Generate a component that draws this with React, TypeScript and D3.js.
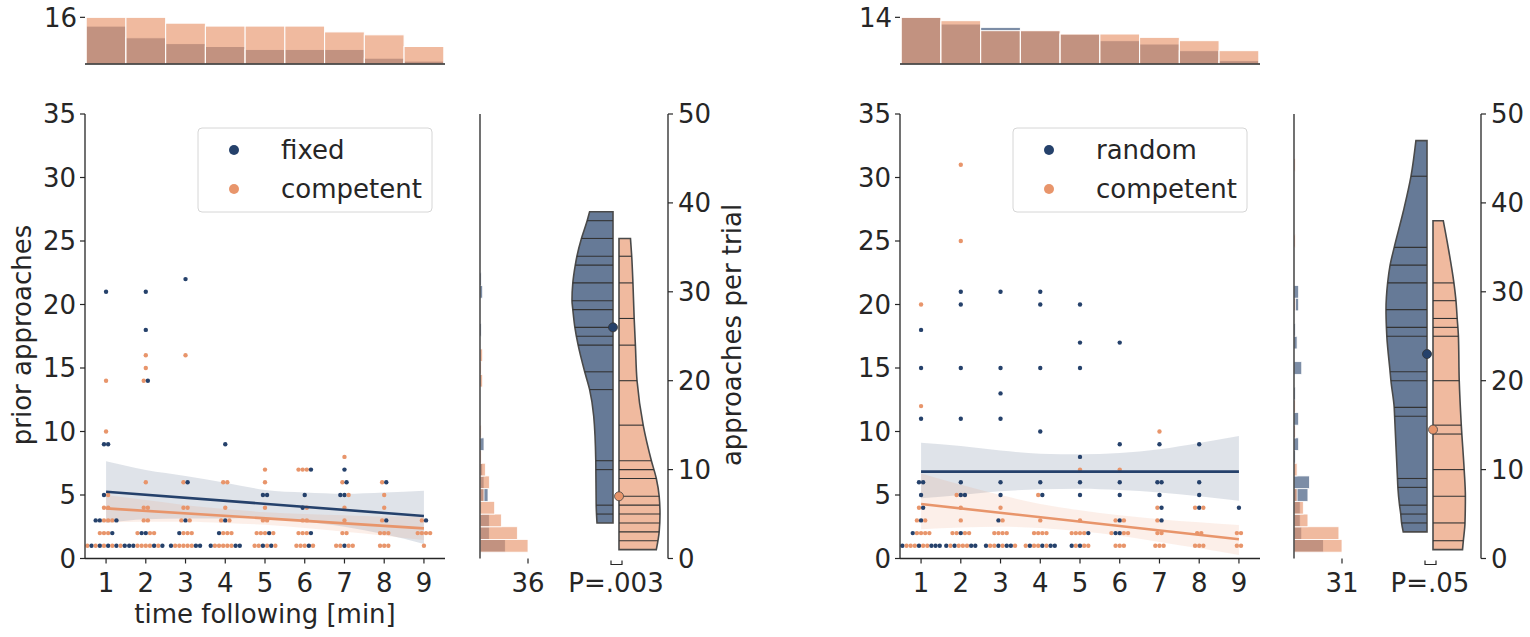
import * as d3 from "d3";

const BLUE = "#25416b";
const ORANGE = "#e8956b";
const INK = "#262626";
const FONT = "DejaVu Sans, Verdana, sans-serif";
const FS = 26;

const timeTicks = [1, 2, 3, 4, 5, 6, 7, 8, 9];
const priorTicks = [0, 5, 10, 15, 20, 25, 30, 35];
const trialTicks = [0, 10, 20, 30, 40, 50];

type Row = [number, number, string];
type Profile = [number, number][];

// swarm rows: [time following, prior approaches, dot order left to right]
// b = fixed / random, o = competent
const fixedRows: Row[] = [
  [1, 1, "obobobobob"], [1, 2, "ooob"], [1, 3, "bbooob"], [1, 4, "oo"], [1, 5, "bo"], [1, 9, "bb"], [1, 10, "o"], [1, 14, "o"], [1, 21, "b"],
  [2, 1, "bboooobob"], [2, 2, "obboo"], [2, 3, "oo"], [2, 4, "oo"], [2, 6, "o"], [2, 14, "ob"], [2, 15, "o"], [2, 16, "o"], [2, 18, "b"], [2, 21, "b"],
  [3, 1, "booooobb"], [3, 2, "booo"], [3, 3, "obo"], [3, 4, "oo"], [3, 6, "ob"], [3, 16, "o"], [3, 22, "b"],
  [4, 1, "booooobb"], [4, 2, "booo"], [4, 3, "obo"], [4, 4, "o"], [4, 6, "oo"], [4, 9, "b"],
  [5, 1, "oobobo"], [5, 2, "ooobo"], [5, 3, "oo"], [5, 4, "o"], [5, 5, "bb"], [5, 6, "o"], [5, 7, "o"],
  [6, 1, "ooobo"], [6, 2, "ooob"], [6, 3, "oo"], [6, 4, "bo"], [6, 5, "b"], [6, 7, "ooob"],
  [7, 1, "ooboo"], [7, 2, "oo"], [7, 3, "o"], [7, 4, "o"], [7, 5, "bbo"], [7, 6, "ob"], [7, 7, "b"], [7, 8, "o"],
  [8, 1, "ooo"], [8, 2, "ooo"], [8, 3, "ob"], [8, 4, "o"], [8, 5, "o"], [8, 6, "ob"],
  [9, 1, "o"], [9, 2, "oooo"], [9, 3, "ob"],
];

const randomRows: Row[] = [
  [1, 1, "boooboobbb"], [1, 2, "boooo"], [1, 3, "obo"], [1, 4, "ob"], [1, 5, "b"], [1, 6, "bb"], [1, 11, "b"], [1, 12, "o"], [1, 15, "b"], [1, 18, "b"], [1, 20, "o"],
  [2, 1, "bobooobb"], [2, 2, "ooboo"], [2, 3, "o"], [2, 4, "o"], [2, 5, "obb"], [2, 6, "b"], [2, 11, "b"], [2, 15, "b"], [2, 20, "b"], [2, 21, "b"], [2, 25, "o"], [2, 31, "o"],
  [3, 1, "boobobbo"], [3, 2, "oooo"], [3, 3, "bo"], [3, 4, "o"], [3, 5, "b"], [3, 6, "b"], [3, 11, "b"], [3, 13, "b"], [3, 15, "b"], [3, 21, "b"],
  [4, 1, "oboobobb"], [4, 2, "oooo"], [4, 3, "o"], [4, 5, "ob"], [4, 6, "b"], [4, 10, "b"], [4, 15, "b"], [4, 20, "b"], [4, 21, "b"],
  [5, 1, "boboo"], [5, 2, "oooob"], [5, 3, "o"], [5, 5, "b"], [5, 6, "b"], [5, 7, "o"], [5, 8, "b"], [5, 15, "b"], [5, 17, "b"], [5, 20, "b"],
  [6, 1, "ooo"], [6, 2, "obboo"], [6, 3, "obo"], [6, 5, "b"], [6, 6, "b"], [6, 7, "o"], [6, 9, "b"], [6, 17, "b"],
  [7, 1, "ooo"], [7, 2, "oo"], [7, 3, "ob"], [7, 4, "ob"], [7, 5, "b"], [7, 6, "bb"], [7, 9, "b"], [7, 10, "o"],
  [8, 1, "ooo"], [8, 2, "oo"], [8, 4, "obo"], [8, 5, "b"], [8, 6, "b"], [8, 9, "b"],
  [9, 1, "oo"], [9, 2, "oo"], [9, 4, "b"],
];

// regression fits at time 1 and 9, CI bands at times 1..9
const fixedFit = [5.26, 3.35];
const fixedBandHi = [7.65, 6.97, 6.5, 5.97, 5.4, 5.2, 5.1, 5.2, 5.34];
const fixedBandLo = [2.8, 3.1, 3.15, 3.15, 3.2, 2.9, 2.5, 1.9, 1.15];
const compLeftFit = [3.95, 2.37];
const compLeftBandHi = [5.0, 4.6, 4.2, 3.9, 3.65, 3.5, 3.4, 3.3, 3.3];
const compLeftBandLo = [2.85, 2.9, 2.9, 2.8, 2.65, 2.4, 2.1, 1.8, 1.45];
const randomFit = [6.84, 6.84];
const randomBandHi = [9.12, 8.85, 8.5, 8.25, 8.2, 8.3, 8.6, 9.1, 9.65];
const randomBandLo = [4.74, 5.0, 5.3, 5.45, 5.5, 5.4, 5.2, 4.9, 4.55];
const compRightFit = [4.29, 1.51];
const compRightBandHi = [6.7, 5.8, 5.0, 4.3, 3.8, 3.4, 3.1, 2.85, 2.64];
const compRightBandLo = [2.3, 2.45, 2.5, 2.4, 2.15, 1.8, 1.3, 0.8, 0.28];

// half-violin outlines: [approaches per trial, relative half width]
const fixedViolin: Profile = [[39, 0.57], [38, 0.63], [36, 0.77], [34, 0.88], [33, 0.92], [31, 0.98], [29, 1.0], [28, 0.98], [26, 0.93], [24, 0.85], [21, 0.69], [19, 0.57], [16, 0.47], [11, 0.42], [6, 0.41], [4, 0.39]];
const compLeftViolin: Profile = [[36, 0.28], [34, 0.31], [31, 0.34], [27, 0.37], [24, 0.4], [20, 0.44], [15, 0.59], [11, 0.79], [9, 0.91], [7, 0.98], [5, 1.0], [3, 0.98], [1, 0.91]];
const randomViolin: Profile = [[47, 0.27], [43, 0.39], [39, 0.58], [35, 0.8], [33, 0.9], [31, 0.96], [28, 1.0], [26, 0.99], [25, 0.98], [21, 0.9], [20, 0.88], [17, 0.8], [16, 0.79], [9, 0.72], [8, 0.71], [6, 0.67], [5, 0.64], [4, 0.62], [3, 0.58]];
const compRightViolin: Profile = [[38, 0.25], [35, 0.37], [31, 0.51], [29, 0.56], [27, 0.59], [25, 0.62], [20, 0.64], [15, 0.69], [10, 0.76], [7, 0.79], [4, 0.78], [2, 0.74], [1, 0.72]];

// per-subject sticks
const fixedSticks = [38, 36, 34, 33, 31, 29, 28, 26, 25, 24, 21, 19, 11, 10, 6, 5];
const compLeftSticks = [34, 31, 27, 24, 20, 15, 11, 10, 9, 7, 6, 5, 4, 3, 2];
const randomSticks = [43, 35, 33, 31, 28, 26, 25, 21, 20, 17, 16, 9, 8, 6, 5, 4];
const compRightSticks = [31, 29, 27, 26, 25, 20, 15, 14, 10, 7, 4, 2];

const leftDots = [26, 7];
const rightDots = [23, 14.5];

const Y0 = 558.5;
const Y1 = 114;
const HALF = 41;

function countOf(s: string, c: string) {
  return s.split("").filter((ch) => ch === c).length;
}

type PanelProps = {
  rows: Row[];
  label: string;
  x0: number;
  margX: number;
  violinX: number;
  axisX: number;
  fitB: number[];
  bandBHi: number[];
  bandBLo: number[];
  fitO: number[];
  bandOHi: number[];
  bandOLo: number[];
  violinB: Profile;
  violinO: Profile;
  sticksB: number[];
  sticksO: number[];
  dots: number[];
  pLabel: string;
  yLabel?: string;
};

function Panel(p: PanelProps) {
  const x = d3.scaleLinear().domain([0.47, 9.53]).range([p.x0, p.x0 + 360]);
  const y = d3.scaleLinear().domain([0, 35]).range([Y0, Y1]);
  const yT = d3.scaleLinear().domain([0, 50]).range([Y0, Y1]);

  const byTime = timeTicks.map((t) => {
    const rs = p.rows.filter((r) => r[0] === t);
    return { t, b: d3.sum(rs, (r) => countOf(r[2], "b")), o: d3.sum(rs, (r) => countOf(r[2], "o")) };
  });
  const priors = Array.from(new Set(p.rows.map((r) => r[1]))).sort((a, b) => a - b);
  const byPrior = priors.map((v) => {
    const rs = p.rows.filter((r) => r[1] === v);
    return { v, b: d3.sum(rs, (r) => countOf(r[2], "b")), o: d3.sum(rs, (r) => countOf(r[2], "o")) };
  });
  const maxT = d3.max(byTime, (d) => Math.max(d.b, d.o)) || 1;
  const maxP = d3.max(byPrior, (d) => Math.max(d.b, d.o)) || 1;
  const yTop = d3.scaleLinear().domain([0, maxT * 1.05]).range([64, 15]);
  const xM = d3.scaleLinear().domain([0, maxP * 1.05]).range([p.margX, p.margX + 50.4]);

  const dots = p.rows.flatMap(([t, v, order]) =>
    order.split("").map((c, i) => ({
      cx: x(t) + (i - (order.length - 1) / 2) * 4.15,
      cy: y(v),
      c,
    }))
  );

  const area = d3
    .area<number>()
    .x((_, i) => x(timeTicks[i]))
    .curve(d3.curveMonotoneX);
  const bandPath = (hi: number[], lo: number[]) =>
    area.y0((_, i) => y(lo[i])).y1((d) => y(d))(hi) || "";

  const bc = p.violinX;
  const oc = p.violinX + 6;
  const prof = d3.line<[number, number]>().curve(d3.curveMonotoneY);
  const halfPath = (pr: Profile, side: number, base: number) => {
    const pts: [number, number][] = pr.map(([v, w]) => [base + side * w * HALF, yT(v)]);
    const top = pr[0][0];
    const bot = pr[pr.length - 1][0];
    const body = (prof(pts) || "").replace(/^M/, "L");
    return `M${base},${yT(top)}${body}L${base},${yT(bot)}Z`;
  };
  const widthAt = (pr: Profile) =>
    d3.scaleLinear().domain(pr.map((d) => d[0])).range(pr.map((d) => d[1]));
  const wB = widthAt(p.violinB);
  const wO = widthAt(p.violinO);

  const tx = { fontFamily: FONT, fontSize: FS, fill: INK };

  return (
    <g>
      {/* top histogram of time following */}
      {byTime.map((d) => (
        <g key={"th" + d.t}>
          <rect x={x(d.t - 0.5)} width={x(d.t + 0.5) - x(d.t - 0.5)} y={yTop(d.b)} height={64 - yTop(d.b)} fill={BLUE} fillOpacity={0.6} stroke="#fff" strokeWidth={1} />
          <rect x={x(d.t - 0.5)} width={x(d.t + 0.5) - x(d.t - 0.5)} y={yTop(d.o)} height={64 - yTop(d.o)} fill={ORANGE} fillOpacity={0.65} stroke="#fff" strokeWidth={1} />
        </g>
      ))}
      <line x1={p.x0} x2={p.x0 + 360} y1={64} y2={64} stroke={INK} strokeWidth={1.3} />
      <line x1={p.x0 - 5} x2={p.x0} y1={yTop(maxT)} y2={yTop(maxT)} stroke={INK} strokeWidth={1.2} />
      <text x={p.x0 - 8} y={yTop(maxT) + 9.4} textAnchor="end" {...tx}>{maxT}</text>

      {/* regression bands, swarm, fits */}
      <path d={bandPath(p.bandBHi, p.bandBLo)} fill={BLUE} fillOpacity={0.15} />
      <path d={bandPath(p.bandOHi, p.bandOLo)} fill={ORANGE} fillOpacity={0.15} />
      {dots.map((d, i) => (
        <circle key={"d" + i} cx={d.cx} cy={d.cy} r={2.2} fill={d.c === "b" ? BLUE : ORANGE} />
      ))}
      <line x1={x(1)} x2={x(9)} y1={y(p.fitB[0])} y2={y(p.fitB[1])} stroke={BLUE} strokeWidth={2.6} />
      <line x1={x(1)} x2={x(9)} y1={y(p.fitO[0])} y2={y(p.fitO[1])} stroke={ORANGE} strokeWidth={2.6} />

      {/* main axes */}
      <line x1={p.x0} x2={p.x0} y1={Y1} y2={Y0} stroke={INK} strokeWidth={1.3} />
      <line x1={p.x0} x2={p.x0 + 360} y1={Y0} y2={Y0} stroke={INK} strokeWidth={1.3} />
      {priorTicks.map((t) => (
        <g key={"yt" + t}>
          <line x1={p.x0 - 5} x2={p.x0} y1={y(t)} y2={y(t)} stroke={INK} strokeWidth={1.2} />
          <text x={p.x0 - 9} y={y(t) + 9.4} textAnchor="end" {...tx}>{t}</text>
        </g>
      ))}
      {timeTicks.map((t) => (
        <g key={"xt" + t}>
          <line x1={x(t)} x2={x(t)} y1={Y0} y2={Y0 + 5} stroke={INK} strokeWidth={1.2} />
          <text x={x(t)} y={592} textAnchor="middle" {...tx}>{t}</text>
        </g>
      ))}
      {p.yLabel && (
        <>
          <text transform="translate(31,335) rotate(-90)" textAnchor="middle" {...tx}>prior approaches</text>
          <text x={x(5)} y={623} textAnchor="middle" {...tx}>time following [min]</text>
        </>
      )}

      {/* legend */}
      <rect x={p.x0 + 113} y={128} width={234} height={84} rx={4} fill="#fff" fillOpacity={0.8} stroke="#d6d6d6" strokeWidth={1} />
      <circle cx={p.x0 + 149} cy={150} r={5} fill={BLUE} />
      <circle cx={p.x0 + 149} cy={189} r={5} fill={ORANGE} />
      <text x={p.x0 + 196} y={159} {...tx}>{p.label}</text>
      <text x={p.x0 + 196} y={198} {...tx}>competent</text>

      {/* marginal histogram of prior approaches */}
      {byPrior.map((d) => (
        <g key={"mh" + d.v}>
          {d.b > 0 && <rect x={p.margX} y={y(d.v + 0.5)} width={xM(d.b) - p.margX} height={y(d.v - 0.5) - y(d.v + 0.5)} fill={BLUE} fillOpacity={0.6} stroke="#fff" strokeWidth={0.8} />}
          {d.o > 0 && <rect x={p.margX} y={y(d.v + 0.5)} width={xM(d.o) - p.margX} height={y(d.v - 0.5) - y(d.v + 0.5)} fill={ORANGE} fillOpacity={0.65} stroke="#fff" strokeWidth={0.8} />}
        </g>
      ))}
      <line x1={p.margX} x2={p.margX} y1={Y1} y2={Y0} stroke={INK} strokeWidth={1.3} />
      <line x1={xM(maxP)} x2={xM(maxP)} y1={Y0} y2={Y0 + 5} stroke={INK} strokeWidth={1.2} />
      <text x={xM(maxP)} y={592} textAnchor="middle" {...tx}>{maxP}</text>

      {/* split violins */}
      <path d={halfPath(p.violinB, -1, bc)} fill={BLUE} fillOpacity={0.7} stroke="#4a4a4a" strokeWidth={1.6} />
      <path d={halfPath(p.violinO, 1, oc)} fill={ORANGE} fillOpacity={0.65} stroke="#4a4a4a" strokeWidth={1.6} />
      {p.sticksB.map((v, i) => (
        <line key={"sb" + i} x1={bc} x2={bc - wB(v) * HALF} y1={yT(v)} y2={yT(v)} stroke="#333" strokeWidth={1.1} />
      ))}
      {p.sticksO.map((v, i) => (
        <line key={"so" + i} x1={oc} x2={oc + wO(v) * HALF} y1={yT(v)} y2={yT(v)} stroke="#333" strokeWidth={1.1} />
      ))}
      <circle cx={bc} cy={yT(p.dots[0])} r={4.5} fill={BLUE} stroke="#333" strokeWidth={0.8} />
      <circle cx={oc} cy={yT(p.dots[1])} r={4.5} fill={ORANGE} stroke="#444" strokeWidth={0.8} />
      <path d={`M${bc - 2},${Y0 + 2}V${Y0 + 6}H${oc + 3}V${Y0 + 2}`} fill="none" stroke={INK} strokeWidth={1.2} />
      <text x={(bc + oc) / 2} y={592} textAnchor="middle" {...tx}>{p.pLabel}</text>

      {/* violin axis */}
      <line x1={p.axisX} x2={p.axisX} y1={Y1} y2={Y0} stroke={INK} strokeWidth={1.3} />
      {trialTicks.map((t) => (
        <g key={"vt" + t}>
          <line x1={p.axisX} x2={p.axisX + 5} y1={yT(t)} y2={yT(t)} stroke={INK} strokeWidth={1.2} />
          <text x={p.axisX + 10} y={yT(t) + 9.4} {...tx}>{t}</text>
        </g>
      ))}
      {p.yLabel && (
        <text transform={`translate(${p.axisX + 73},335) rotate(-90)`} textAnchor="middle" {...tx}>{p.yLabel}</text>
      )}
    </g>
  );
}

export default function App() {
  return (
    <svg width={1530} height={637} style={{ position: "absolute", left: 0, top: 0, background: "#fff" }}>
      <rect width={1530} height={637} fill="#fff" />
      <Panel
        rows={fixedRows}
        label="fixed"
        x0={85}
        margX={480}
        violinX={613}
        axisX={668}
        fitB={fixedFit}
        bandBHi={fixedBandHi}
        bandBLo={fixedBandLo}
        fitO={compLeftFit}
        bandOHi={compLeftBandHi}
        bandOLo={compLeftBandLo}
        violinB={fixedViolin}
        violinO={compLeftViolin}
        sticksB={fixedSticks}
        sticksO={compLeftSticks}
        dots={leftDots}
        pLabel="P=.003"
        yLabel="approaches per trial"
      />
      <Panel
        rows={randomRows}
        label="random"
        x0={900}
        margX={1294}
        violinX={1427}
        axisX={1481}
        fitB={randomFit}
        bandBHi={randomBandHi}
        bandBLo={randomBandLo}
        fitO={compRightFit}
        bandOHi={compRightBandHi}
        bandOLo={compRightBandLo}
        violinB={randomViolin}
        violinO={compRightViolin}
        sticksB={randomSticks}
        sticksO={compRightSticks}
        dots={rightDots}
        pLabel="P=.05"
      />
    </svg>
  );
}
